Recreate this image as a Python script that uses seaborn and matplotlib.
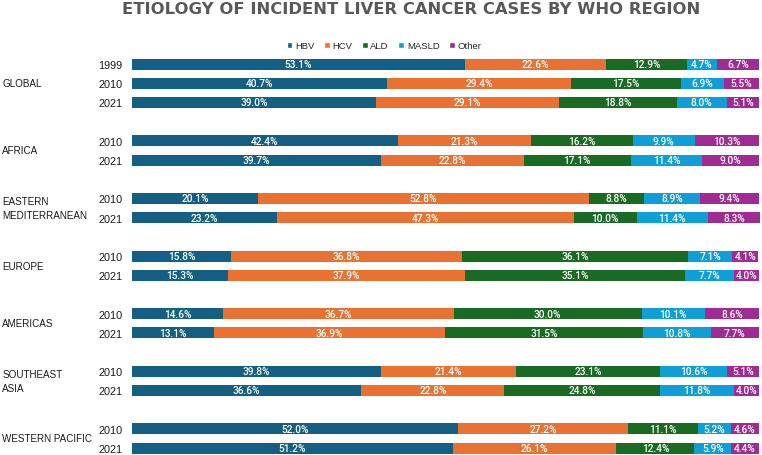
import numpy as np
import pandas as pd
import matplotlib
matplotlib.use("Agg")
import matplotlib.pyplot as plt
import matplotlib.transforms as mtransforms
import seaborn as sns
from matplotlib.patches import Patch

# data (percent of incident cases)
regions = ["GLOBAL", "GLOBAL", "GLOBAL", "AFRICA", "AFRICA",
           "EASTERN\nMEDITERRANEAN", "EASTERN\nMEDITERRANEAN",
           "EUROPE", "EUROPE", "AMERICAS", "AMERICAS",
           "SOUTHEAST\nASIA", "SOUTHEAST\nASIA",
           "WESTERN PACIFIC", "WESTERN PACIFIC"]
years = ["1999", "2010", "2021", "2010", "2021", "2010", "2021", "2010", "2021",
         "2010", "2021", "2010", "2021", "2010", "2021"]
hbv = [53.1, 40.7, 39.0, 42.4, 39.7, 20.1, 23.2, 15.8, 15.3, 14.6, 13.1, 39.8, 36.6, 52.0, 51.2]
hcv = [22.6, 29.4, 29.1, 21.3, 22.8, 52.8, 47.3, 36.8, 37.9, 36.7, 36.9, 21.4, 22.8, 27.2, 26.1]
ald = [12.9, 17.5, 18.8, 16.2, 17.1, 8.8, 10.0, 36.1, 35.1, 30.0, 31.5, 23.1, 24.8, 11.1, 12.4]
masld = [4.7, 6.9, 8.0, 9.9, 11.4, 8.9, 11.4, 7.1, 7.7, 10.1, 10.8, 10.6, 11.8, 5.2, 5.9]
other = [6.7, 5.5, 5.1, 10.3, 9.0, 9.4, 8.3, 4.1, 4.0, 8.6, 7.7, 5.1, 4.0, 4.6, 4.4]

causes = ["HBV", "HCV", "ALD", "MASLD", "Other"]
colors = ["#156082", "#E97132", "#196B24", "#0F9ED5", "#A02B93"]

df = pd.DataFrame({"region": regions, "year": years, "HBV": hbv, "HCV": hcv,
                   "ALD": ald, "MASLD": masld, "Other": other})

# row positions: one empty row between regions
pos = []
p = 0
prev = None
for r in df["region"]:
    if prev is not None and r != prev:
        p += 1
    pos.append(p)
    p += 1
    prev = r
df["pos"] = pos

sns.set_theme(style="white")
plt.rcParams["font.family"] = ["Liberation Sans", "DejaVu Sans"]

fig = plt.figure(figsize=(7.62, 4.56), dpi=100)
ax = fig.add_axes([0.1732, 0.0026, 0.8242, 0.8695])

# stacked bars: draw cumulative totals from the largest down
cum = df[causes].cumsum(axis=1)
for cause, col in reversed(list(zip(causes, colors))):
    sns.barplot(x=cum[cause], y=df["pos"], orient="y", native_scale=True,
                color=col, width=0.57, saturation=1, ax=ax, linewidth=0)

# segment labels
for i, row in df.iterrows():
    left = 0
    for cause in causes:
        v = row[cause]
        ax.text(left + v / 2, row["pos"], f"{v:.1f}%", ha="center", va="center",
                color="white", fontsize=7.3, family=["Roboto", "DejaVu Sans"],
                fontweight="medium")
        left += v

ax.set_xlim(0, 100.2)
ax.set_ylim(20.3, -0.35)
ax.set_xticks([])
ax.set_yticks(df["pos"])
ax.set_yticklabels(df["year"], fontsize=7.8, color="#1a1a1a")
ax.tick_params(axis="y", length=0, pad=7)
ax.set_xlabel("")
ax.set_ylabel("")
sns.despine(ax=ax, left=True, bottom=True)

# region labels on the far left
trans = mtransforms.blended_transform_factory(fig.transFigure, ax.transData)
for reg, grp in df.groupby("region", sort=False):
    fig.text(0.003, grp["pos"].mean(), reg, transform=trans,
             ha="left", va="center", fontsize=7.1, color="#1a1a1a", linespacing=1.5)

fig.text(0.54, 0.995, "ETIOLOGY OF INCIDENT LIVER CANCER CASES BY WHO REGION",
         ha="center", va="top", fontsize=11.8, fontweight="bold", color="#595959",
         family="DejaVu Sans")

handles = [Patch(facecolor=c, label=n) for n, c in zip(causes, colors)]
fig.legend(handles=handles, loc="center", bbox_to_anchor=(0.504, 0.897), ncol=5,
           frameon=False, fontsize=6.8, handlelength=0.6, handleheight=0.6,
           handletextpad=0.3, columnspacing=1.0)

fig.savefig("out.png", dpi=100)
